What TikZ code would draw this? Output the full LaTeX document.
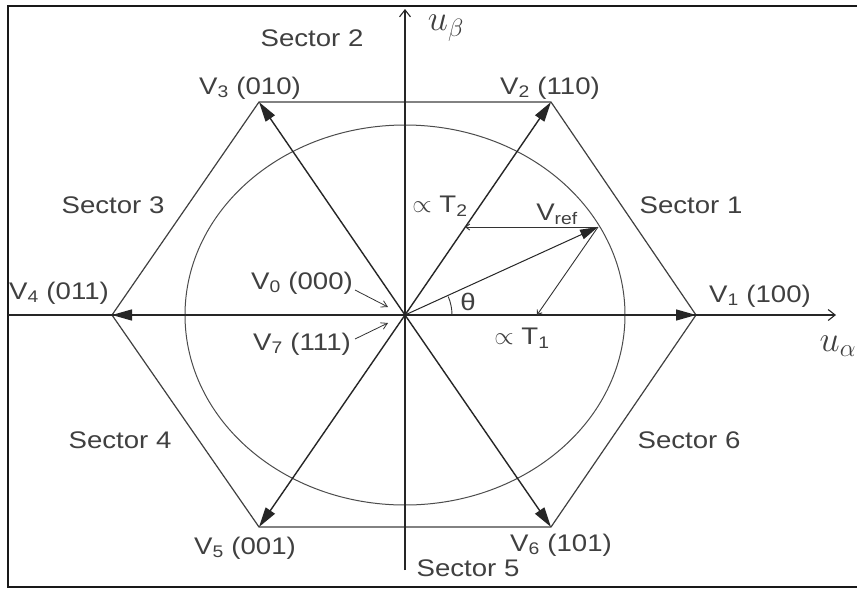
\documentclass[tikz,border=0pt]{standalone}
\usepackage{fontspec}
\setmainfont{Liberation Sans}[FakeStretch=1.15]
\usetikzlibrary{arrows.meta}
\begin{document}
\begin{tikzpicture}[x=1pt,y=-1pt,
  lbl/.style={text=black!75, font=\fontsize{24}{27}\selectfont, inner sep=0pt},
  vec/.style={draw=black!85, line width=1.4pt, -{Triangle[length=20pt,width=11pt]}},
  hexline/.style={draw=black!75, line width=1.2pt},
  axisline/.style={draw=black!85, line width=1.1pt, -{Straight Barb[length=7pt,width=11pt]}},
  proj/.style={draw=black!80, line width=0.9pt, -{Straight Barb[length=4pt,width=6pt]}},
  pointer/.style={draw=black!80, line width=0.8pt, -{Straight Barb[length=6pt,width=7pt]}}]
\useasboundingbox (0,0) rectangle (857,590);
\fill[white] (0,0) rectangle (857,590);
% frame
\draw[line width=2.2pt, black!90] (857,6) -- (8,6) -- (8,587) -- (857,587);
% key points
\coordinate (O) at (405,315);
\coordinate (P1) at (696,315);
\coordinate (P2) at (551,102);
\coordinate (P3) at (259,102);
\coordinate (P4) at (112,315);
\coordinate (P5) at (259,527);
\coordinate (P6) at (551,527);
\coordinate (Pref) at (598,227);
\coordinate (T2p) at (465,227);
\coordinate (T1p) at (537,315);
\coordinate (AxL) at (8,315);
\coordinate (AxR) at (836,315);
\coordinate (AyB) at (405,570);
\coordinate (AyT) at (405,9);
% circle
\draw[black!70, line width=1pt] (O) ellipse [x radius=220pt, y radius=190pt];
% hexagon
\draw[hexline] (P1) -- (P2) -- (P3) -- (P4) -- (P5) -- (P6) -- cycle;
% axes
\draw[axisline] (AxL) -- (AxR);
\draw[axisline] (AyB) -- (AyT);
% vectors
\draw[vec] (O) -- (P1);
\draw[vec] (O) -- (P2);
\draw[vec] (O) -- (P3);
\draw[vec] (O) -- (P4);
\draw[vec] (O) -- (P5);
\draw[vec] (O) -- (P6);
\draw[vec, line width=1pt, -{Triangle[length=18pt,width=10pt]}] (O) -- (Pref);
% projections
\draw[proj] (Pref) -- (T2p);
\draw[proj] (Pref) -- (T1p);
% theta arc
\draw[black!80, line width=0.9pt] (452,315) arc[start angle=0, end angle=23, radius=47pt];
% labels
\node[lbl] (s1) at (691,205) {Sector 1};
\node[lbl] (s2) at (312,38) {Sector 2};
\node[lbl] (s3) at (113,205) {Sector 3};
\node[lbl] (s4) at (120,440) {Sector 4};
\node[lbl] (s5) at (468,568) {Sector 5};
\node[lbl] (s6) at (689,440) {Sector 6};
\node[lbl] (l1) at (760,296) {V\textsubscript{1} (100)};
\node[lbl] (l2) at (550,88) {V\textsubscript{2} (110)};
\node[lbl] (l3) at (250,88) {V\textsubscript{3} (010)};
\node[lbl] (l4) at (59,293) {V\textsubscript{4} (011)};
\node[lbl] (l5) at (245,548) {V\textsubscript{5} (001)};
\node[lbl] (l6) at (561,545) {V\textsubscript{6} (101)};
\node[lbl] (l0) at (302,283) {V\textsubscript{0} (000)};
\node[lbl] (l7) at (302,344) {V\textsubscript{7} (111)};
\node[lbl] (lref) at (557,214) {V\textsubscript{ref}};
\node[lbl] (lt2) at (440,206) {$\propto$ T\textsubscript{2}};
\node[lbl] (lt1) at (522,338) {$\propto$ T\textsubscript{1}};
\node[lbl] (lth) at (468,302) {θ};
\node[lbl] (ub) at (446,28) {\scalebox{1.45}{$u_{\beta}$}};
\node[lbl] (ua) at (838,346) {\scalebox{1.45}{$u_{\alpha}$}};
% pointers
\coordinate (q0) at (388,307);
\coordinate (q7) at (388,323);
\draw[pointer] (355,290) -- (q0);
\draw[pointer] (355,339) -- (q7);
\end{tikzpicture}
\end{document}
